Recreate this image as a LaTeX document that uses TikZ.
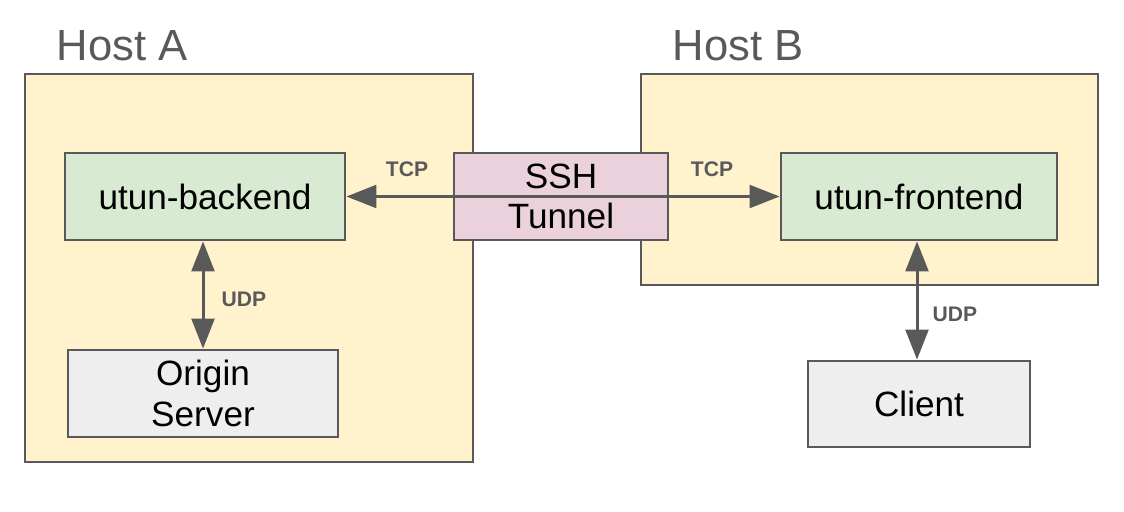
\documentclass[tikz,border=0pt]{standalone}
\usepackage{fontspec}
\setmainfont{Liberation Sans}
\usetikzlibrary{arrows.meta,positioning}

\definecolor{edgegray}{HTML}{595959}
\definecolor{hostfill}{HTML}{FFF2CC}
\definecolor{utunfill}{HTML}{D9EAD3}
\definecolor{sshfill}{HTML}{EAD1DC}
\definecolor{endfill}{HTML}{EEEEEE}

\tikzset{
  host/.style={draw=edgegray, fill=hostfill, line width=0.07cm, inner sep=0pt},
  hostname/.style={text=edgegray, font=\fontsize{31}{37}\selectfont, anchor=base west, inner sep=0pt},
  box/.style={draw=edgegray, line width=0.07cm, inner sep=0pt, minimum height=2.175cm,
    align=center, font=\fontsize{25}{29}\selectfont},
  link/.style={draw=edgegray, line width=0.075cm,
    {Triangle[length=0.75cm,width=0.57cm]}-{Triangle[length=0.75cm,width=0.57cm]}},
  proto/.style={text=edgegray, font=\fontsize{15}{18}\selectfont\bfseries, inner sep=0pt}
}

\begin{document}
\begin{tikzpicture}
  \useasboundingbox (0,0) rectangle (28.1,-12.775);

  % hosts
  \node (hostA)[host, minimum width=11.2cm, minimum height=9.7cm] at (6.225,-6.7) {};
  \node (hostB)[host, minimum width=11.425cm, minimum height=5.275cm] at (21.7375,-4.4875) {};
  \node (nameA)[hostname] at ([shift={(0.825,0.3)}]hostA.north west) {Host A};
  \node (nameB)[hostname] at ([shift={(0.825,0.3)}]hostB.north west) {Host B};

  % boxes
  \node (backend)[box, fill=utunfill, minimum width=7cm] at (5.125,-4.9125) {utun-backend};
  \node (ssh)[box, fill=sshfill, minimum width=5.35cm] at (14.025,-4.9125) {SSH\\Tunnel};
  \node (frontend)[box, fill=utunfill, minimum width=6.9cm] at (22.975,-4.9125) {utun-frontend};
  \node (origin)[box, fill=endfill, minimum width=6.75cm] at (5.075,-9.8375) {Origin\\Server};
  \node (client)[box, fill=endfill, minimum width=5.55cm, minimum height=2.15cm] at (22.975,-10.1) {Client};

  % connectors
  \path[link] (backend.east) -- (frontend.west)
    node[proto, pos=0.14, yshift=0.675cm] {TCP}
    node[proto, pos=0.844, yshift=0.675cm] {TCP};
  \path[link] (backend.south -| origin.north) -- (origin.north)
    node[proto, pos=0.545, xshift=1.025cm] {UDP};
  \path[link] ([xshift=-0.05cm]frontend.south) -- ([xshift=-0.05cm]client.north)
    node[proto, pos=0.62, xshift=0.95cm] {UDP};
\end{tikzpicture}
\end{document}
